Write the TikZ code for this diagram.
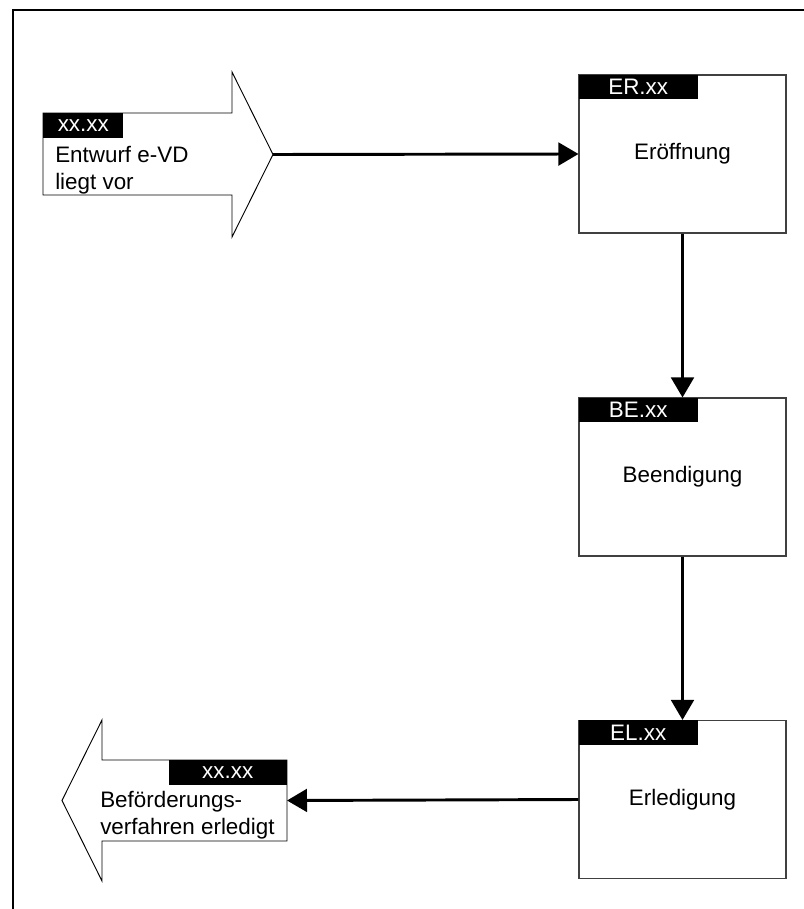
\documentclass[tikz,border=0pt]{standalone}
\usepackage{fontspec}
\setmainfont{Liberation Sans}
\usetikzlibrary{arrows.meta}
\begin{document}
\begin{tikzpicture}[x=0.75pt,y=-0.75pt,
  every node/.style={font=\fontsize{16.8}{20}\selectfont},
  stepbox/.style={draw=black!75, line width=0.8pt, rectangle, minimum width=155.25pt, minimum height=118.5pt, inner sep=0pt},
  tagbox/.style={fill=black, text=white, rectangle, inner sep=0pt, minimum height=18.5pt},
  bigarrow/.style={draw=black, line width=0.7pt, fill=white},
  flow/.style={line width=2.2pt, -{Triangle[length=15pt,width=17pt]}},
  frameline/.style={line width=1.8pt}
]
\useasboundingbox (0,0) rectangle (803,909);
% frame
\draw[frameline] (13,912) -- (13,10) -- (806,10);

% incoming arrow
\draw[bigarrow] (43,113) -- (232,113) -- (232,72) -- (273,154.5) -- (232,237) -- (232,195) -- (43,195) -- cycle;
\coordinate (inTip) at (273,154.5);
\node[tagbox, anchor=north west, minimum width=60pt] (inTag) at (43,113) {xx.xx};
\node[anchor=north west, align=left, inner sep=0pt] (inText) at (55,146) {Entwurf e-VD\\liegt vor};

% boxes
\node[stepbox] (ER) at (682.5,154) {Eröffnung};
\node[tagbox, anchor=north west, minimum width=89.25pt] (ERt) at (ER.north west) {ER.xx};
\node[stepbox] (BE) at (682.5,477) {Beendigung};
\node[tagbox, anchor=north west, minimum width=89.25pt] (BEt) at (BE.north west) {BE.xx};
\node[stepbox] (EL) at (682.5,799.5) {Erledigung};
\node[tagbox, anchor=north west, minimum width=89.25pt] (ELt) at (EL.north west) {EL.xx};

% outgoing arrow
\draw[bigarrow] (287,760) -- (102,760) -- (102,720) -- (62,800.5) -- (102,881) -- (102,841) -- (287,841) -- cycle;
\coordinate (outEnd) at (287,800.5);
\node[tagbox, anchor=north east, minimum width=88.5pt] (outTag) at (287,760) {xx.xx};
\node[anchor=north west, align=left, inner sep=0pt] (outText) at (100,791) {Beförderungs-\\verfahren erledigt};

% connectors
\draw[flow] (inTip) -- (ER.west);
\draw[flow] (ER.south) -- (BE.north);
\draw[flow] (BE.south) -- (EL.north);
\draw[flow] (EL.west) -- (outEnd);
\end{tikzpicture}
\end{document}
